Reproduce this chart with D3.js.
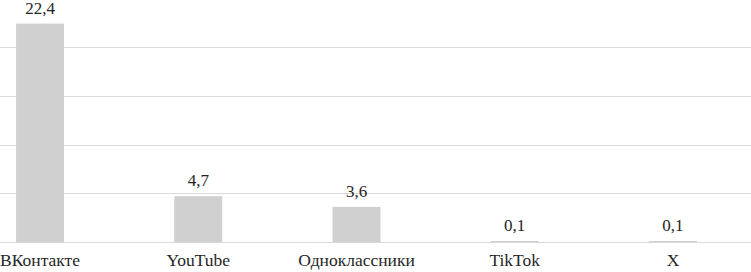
<!DOCTYPE html>
<html><head><meta charset="utf-8">
<script src="https://cdn.jsdelivr.net/npm/d3@7"></script>
<style>body{margin:0;background:#fff}svg{display:block}text{font-family:"Liberation Serif","Times New Roman","DejaVu Serif",serif}</style>
</head><body>
<script>
const categories = ["ВКонтакте", "YouTube", "Одноклассники", "TikTok", "X"];
const values = [22.4, 4.7, 3.6, 0.1, 0.1];
const valueLabels = ["22,4", "4,7", "3,6", "0,1", "0,1"];
const gridTicks = [0, 5, 10, 15, 20, 25];

const W = 751, H = 272;
const svg = d3.select("body").append("svg").attr("width", W).attr("height", H);

const x = d3.scaleBand().domain(categories).range([-39.1, 752.1]).paddingInner(0.697).paddingOuter(0.3485);
const y = d3.scaleLinear().domain([0, 25]).range([242, -1.75]);

svg.append("g").selectAll("line").data(gridTicks).join("line")
  .attr("x1", 0).attr("x2", W)
  .attr("y1", d => Math.round(y(d)) + 0.5).attr("y2", d => Math.round(y(d)) + 0.5)
  .attr("stroke", "#d9d9d9").attr("stroke-width", 1);

svg.append("g").selectAll("rect").data(values).join("rect")
  .attr("x", (d, i) => x(categories[i]))
  .attr("width", x.bandwidth())
  .attr("y", d => y(d))
  .attr("height", d => y(0) - y(d))
  .attr("fill", "#d0d0d0");

svg.append("g").selectAll("text").data(values).join("text")
  .attr("x", (d, i) => x(categories[i]) + x.bandwidth() / 2)
  .attr("y", d => y(d) - 10)
  .attr("text-anchor", "middle")
  .attr("font-size", 17).attr("fill", "#262626")
  .text((d, i) => valueLabels[i]);

svg.append("g").selectAll("text").data(categories).join("text")
  .attr("x", d => x(d) + x.bandwidth() / 2)
  .attr("y", 266)
  .attr("text-anchor", "middle")
  .attr("font-size", 17.5).attr("fill", "#262626")
  .text(d => d);
</script>
</body></html>
